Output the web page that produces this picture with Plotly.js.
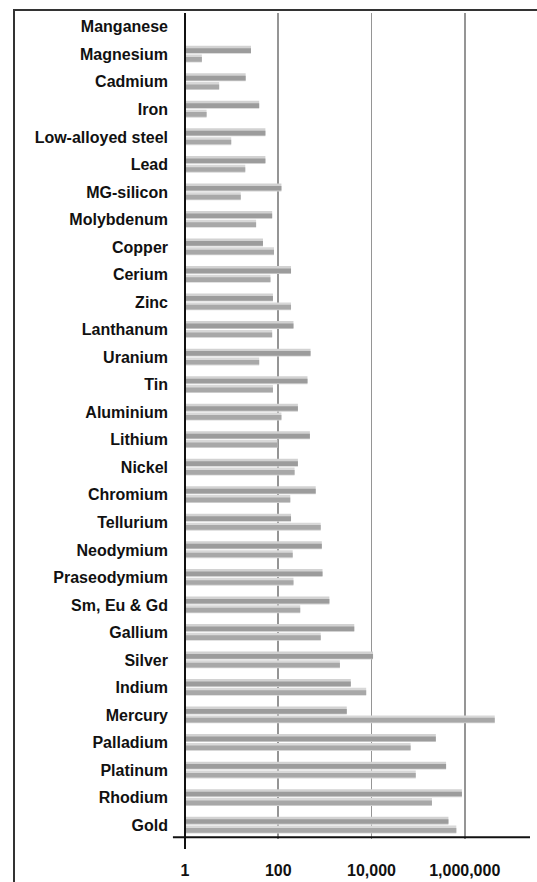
<!DOCTYPE html>
<html><head><meta charset="utf-8">
<script src="https://cdn.plot.ly/plotly-3.0.1.min.js"></script>
<style>
html,body{margin:0;padding:0;background:#fff;}
#frame{position:absolute;left:13px;top:9px;width:540px;height:890px;border-left:2px solid #333;border-top:2px solid #333;}
#chart{position:absolute;left:0;top:0;width:537px;height:882px;}
</style></head><body>
<div id="frame"></div>
<div id="chart"></div>
<script>
const categories = ["Manganese","Magnesium","Cadmium","Iron","Low-alloyed steel","Lead","MG-silicon","Molybdenum","Copper","Cerium","Zinc","Lanthanum","Uranium","Tin","Aluminium","Lithium","Nickel","Chromium","Tellurium","Neodymium","Praseodymium","Sm, Eu & Gd","Gallium","Silver","Indium","Mercury","Palladium","Platinum","Rhodium","Gold"];
const seriesUpper = [null,26,20,39,53,53,117,74,47,188,77,212,493,424,264,477,264,636,188,860,890,1250,4270,10800,3600,2950,240000,398000,870000,447000];
const seriesLower = [null,2.3,5.4,2.9,9.8,19.6,15.7,33.5,81,68,188,74,39,77,117,96,224,181,815,204,212,296,815,2100,7700,4400000,69000,89000,198000,660000];
const tickValues = [1,100,10000,1000000];
const tickLabels = ["1","100","10,000","1,000,000"];

const fam = "Liberation Sans Narrow, Arial Narrow, sans-serif";
function barTrace(vals, color, off, w){
  return {type:"bar", orientation:"h", x:vals, y:categories, marker:{color:color, line:{width:0}},
          offset:off, width:w, hoverinfo:"skip"};
}
const traces = [
  barTrace(seriesUpper, "#d2d2d2", -0.31, 0.29),
  barTrace(seriesUpper, "#9c9c9c", -0.22, 0.17),
  barTrace(seriesLower, "#d8d8d8", 0.01, 0.29),
  barTrace(seriesLower, "#a8a8a8", 0.10, 0.17)
];
const layout = {
  width:537, height:882,
  margin:{l:185, r:7, t:13, b:43},
  paper_bgcolor:"rgba(0,0,0,0)", plot_bgcolor:"rgba(0,0,0,0)",
  barmode:"overlay", showlegend:false, hovermode:false,
  xaxis:{type:"log", range:[0,7.4], tickvals:tickValues, ticktext:tickLabels,
         showgrid:true, gridcolor:"#959595", gridwidth:1.6, zeroline:false, showline:false,
         ticks:"", tickfont:{family:fam, size:16, color:"#111", weight:"bold"}, ticklabelstandoff:20},
  yaxis:{type:"category", categoryarray:categories, categoryorder:"array", range:[29.5,-0.5],
         showgrid:false, zeroline:false, showline:false, ticks:"",
         tickfont:{family:fam, size:16, color:"#111", weight:"bold"}, ticklabelstandoff:16},
  shapes:[
    {type:"line", xref:"paper", yref:"paper", x0:0, x1:0, y0:-0.012, y1:1, line:{color:"#111", width:2}},
    {type:"line", xref:"paper", yref:"paper", x0:-0.035, x1:1, y0:0.002, y1:0.002, line:{color:"#111", width:2}}
  ]
};
Plotly.newPlot("chart", traces, layout, {staticPlot:true, displayModeBar:false});
</script>
</body></html>
